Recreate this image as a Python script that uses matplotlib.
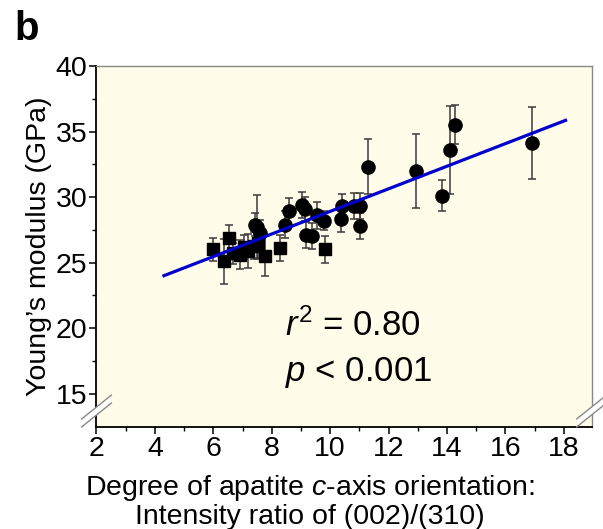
#!/usr/bin/env python3
"""Young's modulus vs degree of apatite c-axis orientation (panel b)."""
import numpy as np
import matplotlib
matplotlib.use("Agg")
import matplotlib.pyplot as plt

plt.rcParams["font.family"] = ["Liberation Sans", "DejaVu Sans"]
plt.rcParams["mathtext.fontset"] = "custom"
plt.rcParams["mathtext.rm"] = "Liberation Sans"
plt.rcParams["mathtext.it"] = "Liberation Sans:italic"

# --- data --------------------------------------------------------------------
sq_x = [5.98, 6.36, 6.54, 6.68, 6.91, 7.05, 7.19, 7.39, 7.52, 7.76, 8.28, 9.81]
sq_y = [26.0, 25.1, 26.9, 25.7, 25.6, 26.2, 25.85, 26.3, 26.5, 25.5, 26.1, 26.0]
sq_err = [0.9, 1.7, 1.0, 0.8, 1.1, 0.9, 1.3, 1.0, 1.2, 1.5, 1.0, 1.0]

ci_x = [7.42, 7.48, 7.59, 8.45, 8.58, 9.02, 9.13, 9.19, 9.37, 9.54, 9.78,
        10.36, 10.40, 10.81, 11.01, 11.01, 11.29, 12.95, 13.83, 14.09, 14.29, 16.92]
ci_y = [27.9, 27.75, 27.25, 27.9, 28.9, 29.4, 29.1, 27.1, 27.0, 28.6, 28.2,
        28.3, 29.35, 29.3, 29.3, 27.8, 32.3, 32.0, 30.1, 33.57, 35.53, 34.1]
ci_err = [0.9, 2.4, 1.0, 1.0, 1.0, 1.0, 0.9, 1.0, 1.0, 1.0, 0.7,
          1.0, 0.9, 1.0, 1.0, 1.0, 2.1, 2.8, 1.2, 3.35, 1.5, 2.75]

# regression line as drawn in the figure
fit_x = [4.31, 18.06]
fit_slope = 0.8626
fit_intercept = 20.28

r2_text = r"$\it{r}^{2}$ = 0.80"
p_text = r"$\it{p}$ < 0.001"

BG = "#fffcea"
ERR_C = "#3a3a3a"
FS = 20.5

fig = plt.figure(figsize=(6.03, 5.29), dpi=100)
ax = fig.add_axes([0.160, 0.193, 0.821, 0.682])
ax.set_facecolor(BG)

ax.errorbar(sq_x, sq_y, yerr=sq_err, fmt="s", color="black", ms=8.5,
            ecolor=ERR_C, elinewidth=1.1, capsize=2.8, capthick=1.1, zorder=3)
ax.errorbar(ci_x, ci_y, yerr=ci_err, fmt="o", color="black", ms=9.5,
            ecolor=ERR_C, elinewidth=1.1, capsize=2.8, capthick=1.1, zorder=3)

fx = np.array(fit_x)
ax.plot(fx, fit_slope * fx + fit_intercept, color="#0000cc", lw=2.3, zorder=4)

ax.text(8.45, 20.2, r2_text, fontsize=25, va="center", ha="left")
ax.text(8.45, 16.6, p_text, fontsize=25, va="center", ha="left")

ax.set_xlim(2, 18.95)
ax.set_ylim(12.45, 40)
ax.set_xticks(np.arange(2, 19, 2))
ax.set_xticks(np.arange(3, 19, 2), minor=True)
ax.set_yticks(np.arange(15, 41, 5))
ax.set_yticks(np.arange(17.5, 40, 5), minor=True)
ax.tick_params(which="major", direction="out", length=5, width=1.1, labelsize=FS, pad=1.5)
ax.tick_params(which="minor", direction="out", length=3, width=1)

for side in ("top", "right"):
    ax.spines[side].set_color("#888888")
    ax.spines[side].set_linewidth(1)
for side in ("left", "bottom"):
    ax.spines[side].set_linewidth(1.3)

ax.set_ylabel("Young\u2019s modulus (GPa)", fontsize=FS, labelpad=3)

# axis break marks on both vertical edges
yc = 0.044
for xa in (0.0, 1.0):
    for dy in (-0.011, 0.011):
        ax.plot([xa - 0.03, xa + 0.03], [yc + dy - 0.033, yc + dy + 0.033],
                transform=ax.transAxes, color="#888888", lw=1, clip_on=False, zorder=6)
    ax.fill([xa - 0.03, xa + 0.03, xa + 0.03, xa - 0.03],
            [yc - 0.044, yc + 0.022, yc + 0.044, yc - 0.022],
            transform=ax.transAxes, color="white", lw=0, clip_on=False, zorder=5)

fig.text(0.514, 0.0775, r"Degree of apatite $\it{c}$-axis orientation:",
         fontsize=FS, ha="center", va="center")
fig.text(0.514, 0.0227, "Intensity ratio of (002)/(310)",
         fontsize=FS, ha="center", va="center")

fig.text(0.024, 0.945, "b", fontsize=29, fontweight="bold", ha="left", va="center")

fig.savefig("out.png", dpi=100)
